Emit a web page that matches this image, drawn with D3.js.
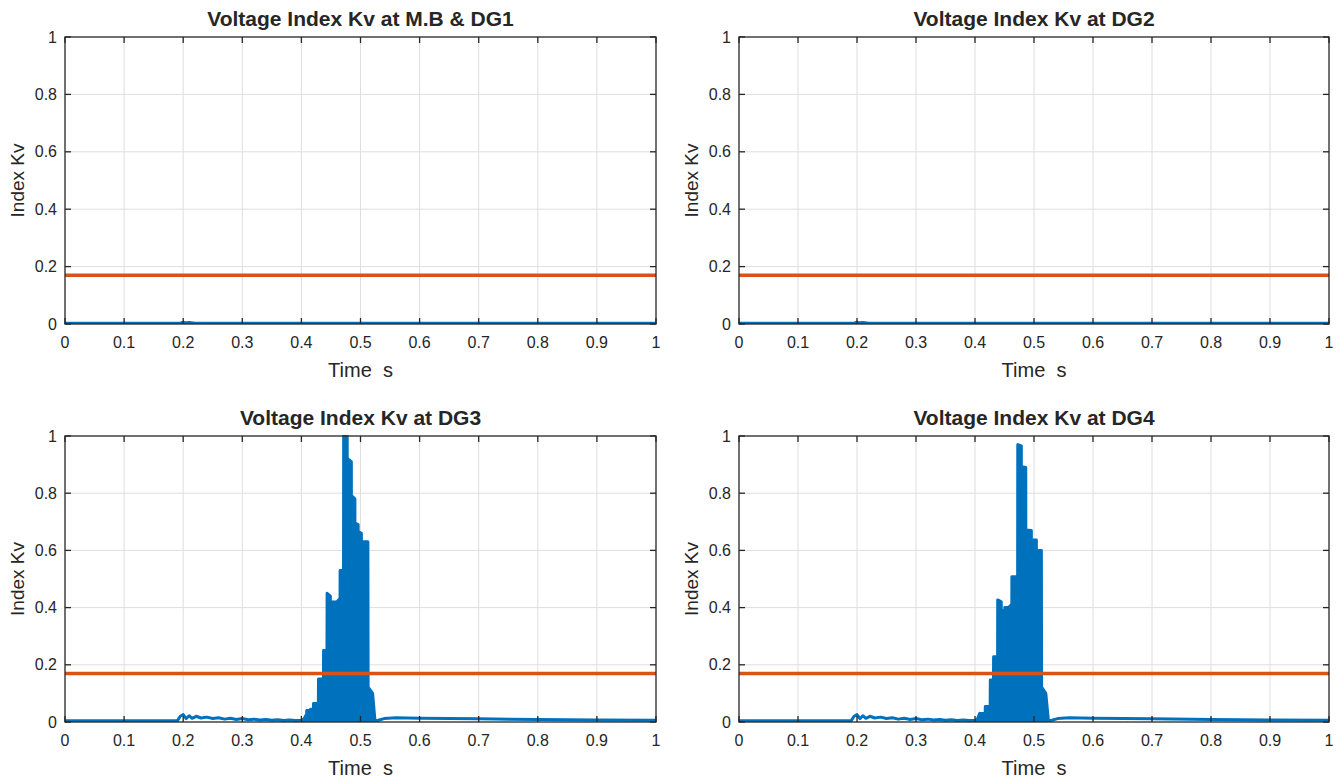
<!DOCTYPE html>
<html>
<head>
<meta charset="utf-8">
<script src="https://cdn.jsdelivr.net/npm/d3@7"></script>
<style>
  body { margin: 0; background: #fff; }
  text { font-family: Arial, "Liberation Sans", Helvetica, sans-serif; fill: #262626; white-space: pre; }
</style>
</head>
<body>
<svg id="graph" width="1343" height="780"></svg>
<script>
/*******************************************************************************************/
// Data

var xTicks = [0, 0.1, 0.2, 0.3, 0.4, 0.5, 0.6, 0.7, 0.8, 0.9, 1];
var yTicks = [0, 0.2, 0.4, 0.6, 0.8, 1];
var titles = ['Voltage Index Kv at M.B & DG1', 'Voltage Index Kv at DG2',
              'Voltage Index Kv at DG3', 'Voltage Index Kv at DG4'];
var xLabel = 'Time  s', yLabel = 'Index Kv';
var threshold = 0.17;

// M.B & DG1 / DG2 : practically flat
var flatKv = [[0,0.003],[0.195,0.003],[0.2,0.006],[0.205,0.004],[0.21,0.005],[0.22,0.003],[1,0.003]];

// DG3 / DG4 : before the fault
var preKv = [[0,0.004],[0.19,0.004],[0.195,0.02],[0.2,0.026],[0.205,0.012],[0.21,0.022],[0.215,0.013],
             [0.222,0.02],[0.23,0.014],[0.24,0.017],[0.25,0.012],[0.26,0.015],[0.27,0.01],[0.28,0.013],
             [0.29,0.009],[0.3,0.012],[0.31,0.008],[0.32,0.01],[0.33,0.007],[0.34,0.009],[0.35,0.006],
             [0.36,0.008],[0.37,0.005],[0.38,0.007],[0.39,0.005],[0.4,0.006]];

// DG3 : fault burst
var dg3Kv = [[0.400,0.006],[0.404,0.01],[0.408,0.025],[0.4085,0.004],
             [0.409,0.04],[0.4145,0.04],[0.415,0.004],[0.4155,0.045],[0.4195,0.04],[0.42,0.004],
             [0.4205,0.065],[0.428,0.065],[0.4285,0.004],
             [0.429,0.15],[0.4365,0.15],[0.437,0.004],
             [0.4375,0.25],[0.4425,0.25],[0.443,0.004],
             [0.4435,0.45],[0.449,0.44],[0.4495,0.004],
             [0.45,0.42],[0.4535,0.42],[0.454,0.004],
             [0.4545,0.42],[0.459,0.42],[0.4595,0.004],[0.46,0.42],[0.4645,0.43],[0.465,0.004],
             [0.4655,0.53],[0.4705,0.53],[0.471,0.004],
             [0.4715,1.0],[0.4775,1.0],[0.478,0.004],
             [0.4785,0.92],[0.4845,0.91],[0.485,0.004],
             [0.4855,0.79],[0.4905,0.78],[0.491,0.004],
             [0.4915,0.695],[0.496,0.69],[0.4965,0.004],
             [0.497,0.665],[0.5015,0.66],[0.502,0.004],
             [0.5025,0.63],[0.507,0.63],[0.5075,0.004],
             [0.508,0.63],[0.5125,0.63],[0.513,0.004],
             [0.5135,0.12],[0.5205,0.10],[0.5245,0.004]];

// DG4 : fault burst
var dg4Kv = [[0.400,0.006],[0.404,0.01],[0.408,0.03],[0.4085,0.004],
             [0.409,0.03],[0.4165,0.03],[0.417,0.004],
             [0.4175,0.054],[0.425,0.054],[0.4255,0.004],
             [0.426,0.147],[0.4305,0.147],[0.431,0.004],
             [0.4315,0.228],[0.4375,0.228],[0.438,0.004],
             [0.4385,0.427],[0.4445,0.42],[0.445,0.004],
             [0.4455,0.39],[0.4495,0.39],[0.45,0.004],
             [0.4505,0.40],[0.456,0.40],[0.4565,0.004],[0.457,0.40],[0.4615,0.41],[0.462,0.004],
             [0.4625,0.508],[0.4715,0.508],[0.472,0.004],
             [0.4725,0.97],[0.4785,0.965],[0.479,0.004],
             [0.4795,0.893],[0.486,0.89],[0.4865,0.004],
             [0.487,0.671],[0.4955,0.67],[0.496,0.004],
             [0.4965,0.636],[0.504,0.636],[0.5045,0.004],
             [0.505,0.60],[0.5125,0.60],[0.513,0.004],
             [0.5135,0.12],[0.52,0.10],[0.5245,0.004]];

// DG3 / DG4 : after the fault
var postKv = [[0.5245,0.004],[0.53,0.006],[0.54,0.012],[0.56,0.015],[0.6,0.013],[0.65,0.012],
              [0.7,0.011],[0.8,0.009],[0.9,0.007],[1.0,0.006]];

/*******************************************************************************************/
// Panels

var panels = [
  { x: 65,  y: 37,  w: 591, h: 287, pre: flatKv, burst: [],    post: [] },
  { x: 739, y: 37,  w: 590, h: 287, pre: flatKv, burst: [],    post: [] },
  { x: 65,  y: 436, w: 591, h: 286, pre: preKv,  burst: dg3Kv, post: postKv },
  { x: 739, y: 436, w: 590, h: 286, pre: preKv,  burst: dg4Kv, post: postKv }
];

var blue = '#0072BD', orange = '#D95319', axisCol = '#262626', gridCol = '#dedede';
var svg = d3.select('#graph');

panels.forEach(function(p, i){
  var xScale = d3.scaleLinear().domain([0, 1]).range([0, p.w]);
  var yScale = d3.scaleLinear().domain([0, 1]).range([p.h, 0]);
  var lineGen = d3.line().x(function(d){ return xScale(d[0]) }).y(function(d){ return yScale(d[1]) });
  var areaGen = d3.area().x(function(d){ return xScale(d[0]) }).y0(yScale(0)).y1(function(d){ return yScale(d[1]) });

  var g = svg.append('g').attr('transform', 'translate(' + p.x + ',' + p.y + ')');

  g.append('clipPath').attr('id', 'clip' + i)
    .append('rect').attr('x', 0).attr('y', -1).attr('width', p.w).attr('height', p.h + 1);

  // grid
  g.selectAll('.vgrid').data(xTicks.slice(1, -1)).enter().append('line')
    .attr('x1', xScale).attr('x2', xScale).attr('y1', 0).attr('y2', p.h)
    .style('stroke', gridCol).style('stroke-width', 1);
  g.selectAll('.hgrid').data(yTicks.slice(1, -1)).enter().append('line')
    .attr('y1', yScale).attr('y2', yScale).attr('x1', 0).attr('x2', p.w)
    .style('stroke', gridCol).style('stroke-width', 1);

  // data
  var plot = g.append('g').attr('clip-path', 'url(#clip' + i + ')');
  var series = p.pre.concat(p.burst, p.post);
  if (p.burst.length) plot.append('path').attr('d', areaGen(p.burst)).style('fill', blue);
  plot.append('path').attr('d', lineGen(series))
    .style('fill', 'none').style('stroke', blue).style('stroke-width', 3).style('stroke-linejoin', 'round');
  plot.append('line').attr('x1', 0).attr('x2', p.w).attr('y1', yScale(threshold)).attr('y2', yScale(threshold))
    .style('stroke', orange).style('stroke-width', 3.5);

  // box + inward ticks
  g.append('rect').attr('width', p.w).attr('height', p.h)
    .style('fill', 'none').style('stroke', axisCol).style('stroke-width', 1.3);
  var tl = 6;
  xTicks.forEach(function(t){
    g.append('line').attr('x1', xScale(t)).attr('x2', xScale(t)).attr('y1', p.h).attr('y2', p.h - tl).style('stroke', axisCol).style('stroke-width', 1.3);
    g.append('line').attr('x1', xScale(t)).attr('x2', xScale(t)).attr('y1', 0).attr('y2', tl).style('stroke', axisCol).style('stroke-width', 1.3);
  });
  yTicks.forEach(function(t){
    g.append('line').attr('y1', yScale(t)).attr('y2', yScale(t)).attr('x1', 0).attr('x2', tl).style('stroke', axisCol).style('stroke-width', 1.3);
    g.append('line').attr('y1', yScale(t)).attr('y2', yScale(t)).attr('x1', p.w).attr('x2', p.w - tl).style('stroke', axisCol).style('stroke-width', 1.3);
  });

  // tick labels
  g.selectAll('.xt').data(xTicks).enter().append('text')
    .attr('x', xScale).attr('y', p.h + 24).style('text-anchor', 'middle').style('font-size', '16px')
    .text(function(d){ return d3.format('~g')(d) });
  g.selectAll('.yt').data(yTicks).enter().append('text')
    .attr('x', -8).attr('y', yScale).attr('dy', '0.35em').style('text-anchor', 'end').style('font-size', '16px')
    .text(function(d){ return d3.format('~g')(d) });

  // labels
  g.append('text').attr('x', p.w / 2).attr('y', -11).style('text-anchor', 'middle')
    .style('font-size', '21px').style('font-weight', 'bold').text(titles[i]);
  g.append('text').attr('x', p.w / 2).attr('y', p.h + 53).style('text-anchor', 'middle')
    .style('font-size', '20px').text(xLabel);
  g.append('text').attr('transform', 'translate(-41,' + (p.h / 2) + ') rotate(-90)')
    .style('text-anchor', 'middle').style('font-size', '19px').text(yLabel);
});
</script>
</body>
</html>
